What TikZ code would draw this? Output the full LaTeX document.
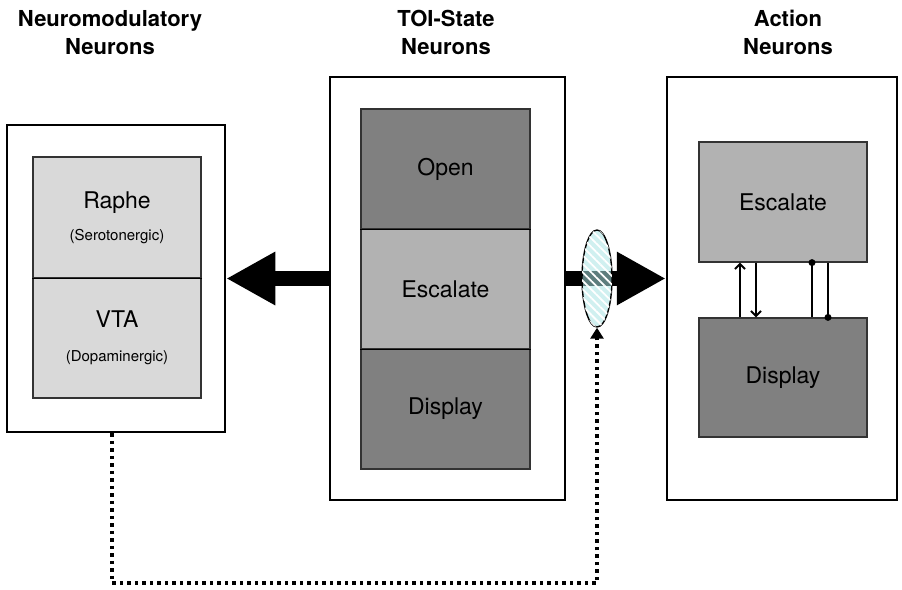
\documentclass[tikz,border=0pt]{standalone}
\usepackage{fontspec}
\setmainfont{TeX Gyre Heros}
\usetikzlibrary{arrows.meta,calc,shapes.geometric,patterns.meta}

\definecolor{gatecyan}{RGB}{170,228,228}
\newcommand\subname[1]{{\fontsize{15}{18}\selectfont #1}}

\tikzset{
  group/.style={draw,line width=2.5pt,fill=white,inner sep=0pt},
  cell/.style={draw=black!80,line width=1.2pt,inner sep=0pt,align=center,
    minimum width=168pt,minimum height=120pt,font=\fontsize{23}{27}\selectfont},
  head/.style={font=\fontsize{22}{28}\selectfont\bfseries,align=center,inner sep=0pt,anchor=north},
  bigarrow/.style={line width=15pt,-{Triangle[length=49pt,width=50pt]}},
  gate/.style={ellipse,draw,line width=1.4pt,fill=gatecyan,fill opacity=0.55,
    minimum width=30pt,minimum height=97pt,inner sep=0pt,
    postaction={pattern={Lines[angle=-45,distance=6pt,line width=1.8pt]},pattern color=white,fill opacity=0.55}},
  dotline/.style={line width=3.5pt,dash pattern=on 3.5pt off 4pt,-{Triangle[length=11pt,width=13pt]}},
  link/.style={line width=2pt},
  linkarrow/.style={link,-{Straight Barb[length=5pt,width=10pt,line width=2pt]}},
}

\begin{document}
\begin{tikzpicture}[x=1pt,y=-1pt]

\useasboundingbox (0,0) rectangle (902,589);

% outer groups
\node[group,minimum width=218pt,minimum height=307pt] (nm) at (116,278.5) {};
\node[group,minimum width=235pt,minimum height=423pt] (toi) at (447.5,288.5) {};
\node[group,minimum width=230pt,minimum height=423pt] (act) at (782,288.5) {};

\node[head] (nmhead) at (110,10) {Neuromodulatory\\Neurons};
\node[head] (toihead) at (446,10) {TOI-State\\Neurons};
\node[head] (acthead) at (788,10) {Action\\Neurons};

% neuromodulatory cells
\node[cell,fill=black!15,minimum height=121pt] (raphe) at (117,217.5) {Raphe\\[5pt]\subname{(Serotonergic)}};
\node[cell,fill=black!15] (vta) at (117,338) {VTA\\[7pt]\subname{(Dopaminergic)}};
\draw[line width=1.5pt] (raphe.south west) -- (raphe.south east);

% TOI-state cells
\node[cell,fill=black!50,minimum width=169pt] (open) at (445.5,169) {Open};
\node[cell,fill=black!30,minimum width=169pt] (esc) at (445.5,289) {Escalate};
\node[cell,fill=black!50,minimum width=169pt] (disp) at (445.5,409) {Display};
\draw[line width=1.5pt] (open.south west) -- (open.south east) (esc.south west) -- (esc.south east);

% action cells
\node[cell,fill=black!30] (aesc) at (783,202) {Escalate};
\node[cell,fill=black!50,minimum height=119pt] (adisp) at (783,377.5) {Display};

\draw[linkarrow] (740,0 |- adisp.north) -- (740,0 |- aesc.south);
\draw[linkarrow] (756,0 |- aesc.south) -- (756,0 |- adisp.north);
\draw[link] (812,0 |- adisp.north) -- (812,0 |- aesc.south);
\draw[link] (828,0 |- aesc.south) -- (828,0 |- adisp.north);
\fill (812,0 |- aesc.south) circle (3.5pt);
\fill (828,0 |- adisp.north) circle (3.5pt);

% projections
\draw[bigarrow] (nm.east -| toi.west) -- (nm.east);
\draw[bigarrow] (nm.east -| toi.east) -- (nm.east -| act.west);

\node[gate] (gate) at (597,278.5) {};

\coordinate (dl) at (112,583);
\draw[dotline] (nm.south -| dl) -- (dl) -| (gate.south);

\end{tikzpicture}
\end{document}
